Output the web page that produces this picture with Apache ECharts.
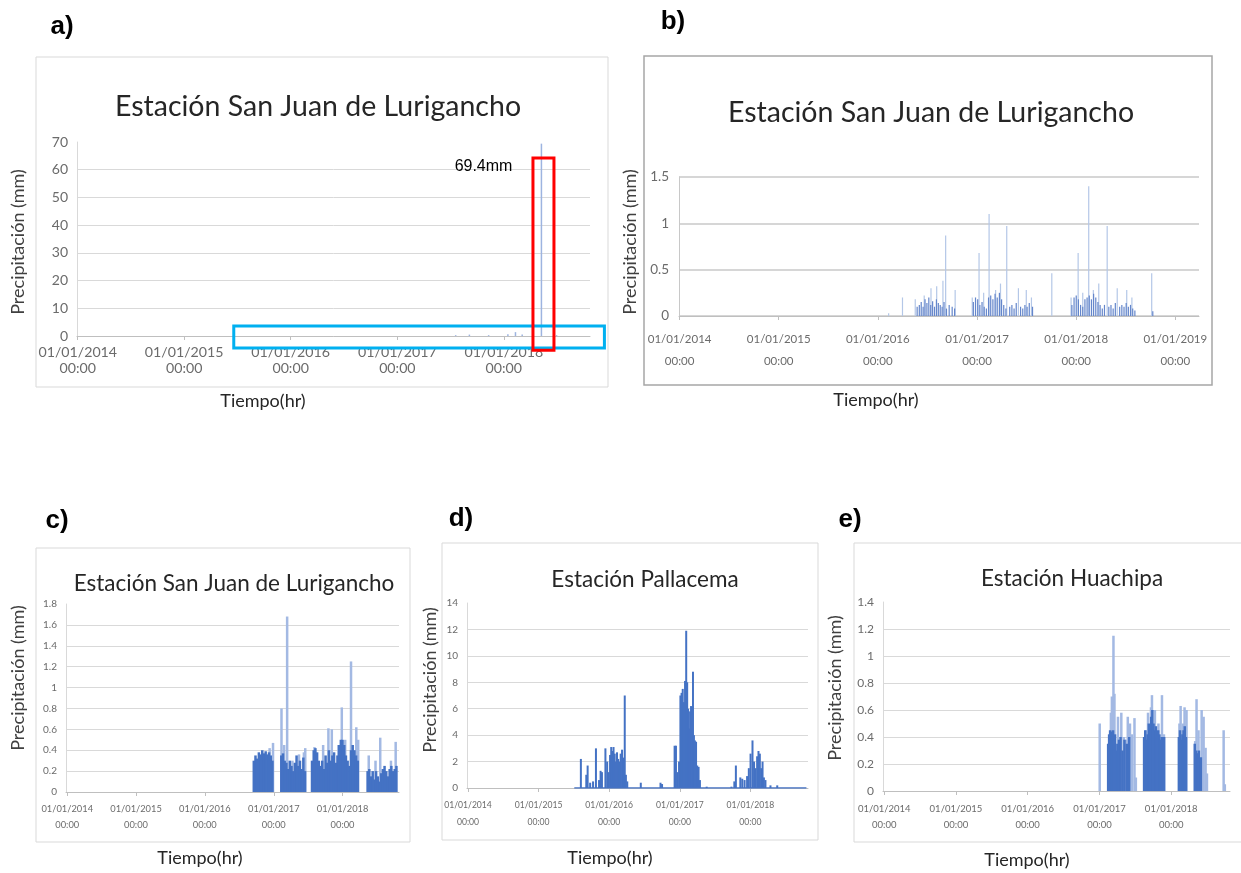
<!DOCTYPE html>
<html>
<head>
<meta charset="utf-8">
<script src="https://cdn.jsdelivr.net/npm/echarts@6/dist/echarts.min.js"></script>
<style>html,body{margin:0;padding:0;background:#fff;}</style>
</head>
<body>
<div id="main" style="width:1241px;height:873px;"></div>
<script>
// ---- data ----
var stationTitles = ['Estación San Juan de Lurigancho', 'Estación San Juan de Lurigancho',
    'Estación San Juan de Lurigancho', 'Estación Pallacema', 'Estación Huachipa'];
var panelLetters = ['a)', 'b)', 'c)', 'd)', 'e)'];
var xStart = '2014-01-01';
var xEnds = ['2018-10-21', '2019-03-27', '2018-10-21', '2018-10-21', '2018-10-21'];
var yMax = [70, 1.5, 1.8, 14, 1.4];
var yStep = [10, 0.5, 0.2, 2, 0.2];

// a) whole record, one 69.4 mm outlier
var aRain = [['2017-07-20', 0.3], ['2017-09-05', 0.5], ['2017-11-10', 0.3], ['2018-01-15', 0.6],
    ['2018-02-10', 1.4], ['2018-03-05', 0.5], ['2018-05-10', 69.4], ['2018-07-01', 0.3]];
var aPeakLabel = '69.4mm';
var aRedBox = ['2018-04-11', '2018-06-22', 64.2, -5.1];
var aBlueBox = ['2015-06-20', '2018-12-12', 3.6, -4.3];

// b) same station, outlier removed
var bBase = [['2016-05-25', 0.1], ['2016-06-02', 0.12], ['2016-06-09', 0.15], ['2016-06-16', 0.1], ['2016-06-23', 0.18],
    ['2016-06-30', 0.14], ['2016-07-07', 0.2], ['2016-07-14', 0.12], ['2016-07-21', 0.16], ['2016-07-28', 0.1],
    ['2016-08-04', 0.18], ['2016-08-11', 0.14], ['2016-08-18', 0.12], ['2016-08-25', 0.1], ['2016-09-01', 0.15],
    ['2016-09-10', 0.08], ['2016-09-20', 0.12], ['2016-10-01', 0.1], ['2016-10-10', 0.08],
    ['2016-12-18', 0.15], ['2016-12-26', 0.2], ['2017-01-03', 0.18], ['2017-01-11', 0.12], ['2017-01-19', 0.15],
    ['2017-01-27', 0.1], ['2017-02-04', 0.08], ['2017-02-12', 0.2], ['2017-02-20', 0.22], ['2017-02-28', 0.18],
    ['2017-03-08', 0.24], ['2017-03-16', 0.2], ['2017-03-24', 0.25], ['2017-04-01', 0.18], ['2017-04-09', 0.12],
    ['2017-04-17', 0.08], ['2017-05-01', 0.1], ['2017-05-09', 0.12], ['2017-05-17', 0.08], ['2017-05-25', 0.14],
    ['2017-06-10', 0.1], ['2017-06-18', 0.08], ['2017-06-26', 0.12], ['2017-07-04', 0.1], ['2017-07-12', 0.14],
    ['2017-07-24', 0.1],
    ['2017-12-16', 0.12], ['2017-12-24', 0.2], ['2018-01-01', 0.22], ['2018-01-09', 0.18], ['2018-01-17', 0.12],
    ['2018-01-25', 0.1], ['2018-02-02', 0.18], ['2018-02-10', 0.2], ['2018-02-18', 0.22], ['2018-02-26', 0.18],
    ['2018-03-06', 0.24], ['2018-03-14', 0.2], ['2018-03-22', 0.15], ['2018-03-30', 0.12], ['2018-04-07', 0.08],
    ['2018-04-15', 0.12], ['2018-05-01', 0.1], ['2018-05-09', 0.12], ['2018-05-17', 0.08], ['2018-05-25', 0.14],
    ['2018-06-10', 0.1], ['2018-06-18', 0.12], ['2018-06-26', 0.1], ['2018-07-04', 0.14], ['2018-07-12', 0.1],
    ['2018-07-20', 0.12], ['2018-07-28', 0.08], ['2018-08-05', 0.06], ['2018-10-10', 0.05]];
var bPeaks = [['2016-02-10', 0.03], ['2016-04-01', 0.2], ['2016-05-18', 0.18], ['2016-06-20', 0.22], ['2016-07-15', 0.3],
    ['2016-08-05', 0.32], ['2016-08-28', 0.38], ['2016-09-07', 0.87], ['2016-10-12', 0.28],
    ['2016-12-14', 0.2], ['2017-01-08', 0.68], ['2017-01-25', 0.25], ['2017-02-14', 1.1], ['2017-03-10', 0.28],
    ['2017-03-28', 0.35], ['2017-04-20', 0.97], ['2017-06-02', 0.3], ['2017-07-01', 0.28], ['2017-07-20', 0.2],
    ['2017-10-03', 0.46],
    ['2017-12-13', 0.2], ['2018-01-08', 0.68], ['2018-01-25', 0.25], ['2018-02-16', 1.4], ['2018-03-05', 0.28],
    ['2018-03-25', 0.35], ['2018-04-25', 0.97], ['2018-06-01', 0.3], ['2018-07-06', 0.28], ['2018-07-25', 0.2],
    ['2018-10-06', 0.46]];

// c) San Juan de Lurigancho, second series
var cBase = [['2016-09-17', 0.3], ['2016-09-26', 0.35], ['2016-10-05', 0.32], ['2016-10-14', 0.38], ['2016-10-23', 0.36],
    ['2016-11-01', 0.4], ['2016-11-10', 0.37], ['2016-11-19', 0.39], ['2016-11-28', 0.36], ['2016-12-07', 0.38],
    ['2016-12-16', 0.35], ['2016-12-25', 0.3],
    ['2017-02-10', 0.35], ['2017-02-19', 0.37], ['2017-02-28', 0.3], ['2017-03-09', 0.28], ['2017-03-18', 0.22],
    ['2017-03-27', 0.3], ['2017-04-05', 0.25], ['2017-04-14', 0.2], ['2017-04-23', 0.28], ['2017-05-02', 0.35],
    ['2017-05-11', 0.25], ['2017-05-20', 0.3], ['2017-05-29', 0.22], ['2017-06-07', 0.33], ['2017-06-16', 0.2],
    ['2017-07-23', 0.3], ['2017-08-01', 0.4], ['2017-08-10', 0.42], ['2017-08-19', 0.38], ['2017-08-28', 0.3],
    ['2017-09-06', 0.25], ['2017-09-15', 0.3], ['2017-09-24', 0.22], ['2017-10-03', 0.35], ['2017-10-12', 0.28],
    ['2017-10-21', 0.4], ['2017-10-30', 0.3], ['2017-11-08', 0.35], ['2017-11-17', 0.38], ['2017-11-26', 0.28],
    ['2017-12-05', 0.35], ['2017-12-14', 0.45], ['2017-12-23', 0.5], ['2018-01-01', 0.5], ['2018-01-10', 0.45],
    ['2018-01-19', 0.35], ['2018-01-28', 0.3], ['2018-02-06', 0.25], ['2018-02-15', 0.4], ['2018-02-24', 0.45],
    ['2018-03-05', 0.4], ['2018-03-14', 0.35], ['2018-03-23', 0.3],
    ['2018-05-14', 0.2], ['2018-05-23', 0.22], ['2018-06-01', 0.15], ['2018-06-10', 0.2], ['2018-06-19', 0.12],
    ['2018-06-28', 0.2], ['2018-07-07', 0.15], ['2018-07-16', 0.1], ['2018-07-25', 0.18], ['2018-08-03', 0.22],
    ['2018-08-12', 0.25], ['2018-08-21', 0.2], ['2018-08-30', 0.15], ['2018-09-08', 0.22], ['2018-09-17', 0.25],
    ['2018-09-26', 0.2], ['2018-10-05', 0.22], ['2018-10-14', 0.25]];
var cPeaks = [['2016-12-10', 0.42], ['2016-12-28', 0.47], ['2017-02-11', 0.8], ['2017-02-25', 0.45], ['2017-03-13', 1.68],
    ['2017-04-10', 0.3], ['2017-05-15', 0.36], ['2017-06-10', 0.38], ['2017-06-17', 0.42], ['2017-08-05', 0.43],
    ['2017-09-20', 0.45], ['2017-10-18', 0.61], ['2017-11-05', 0.6], ['2017-12-10', 0.45], ['2017-12-28', 0.81],
    ['2018-01-15', 0.5], ['2018-02-15', 1.25], ['2018-03-15', 0.62], ['2018-03-25', 0.5], ['2018-05-20', 0.35],
    ['2018-06-25', 0.3], ['2018-07-20', 0.52], ['2018-09-15', 0.3], ['2018-10-10', 0.48]];

// d) Pallacema
var dRecord = [['2015-07-05', 0], ['2018-10-18', 0]];
var dRain = [['2015-08-08', 2.2], ['2015-09-05', 1.0], ['2015-09-12', 1.7], ['2015-09-25', 0.4], ['2015-10-10', 0.5],
    ['2015-10-25', 3.0], ['2015-11-10', 0.6], ['2015-11-18', 1.3], ['2015-11-25', 1.2], ['2015-12-13', 3.0],
    ['2015-12-22', 2.0], ['2015-12-30', 1.2],
    ['2016-01-06', 2.5], ['2016-01-12', 3.1], ['2016-01-18', 2.8], ['2016-01-24', 3.1], ['2016-01-30', 2.6],
    ['2016-02-05', 2.0], ['2016-02-11', 2.7], ['2016-02-17', 2.2], ['2016-02-23', 2.0], ['2016-03-01', 2.6],
    ['2016-03-08', 2.9], ['2016-03-15', 2.3], ['2016-03-22', 7.0], ['2016-03-28', 1.0], ['2016-04-04', 0.5],
    ['2016-06-13', 0.4], ['2016-09-23', 0.4], ['2016-10-01', 0.3],
    ['2016-12-05', 3.2], ['2016-12-12', 3.2], ['2016-12-20', 1.2], ['2016-12-28', 2.0], ['2017-01-04', 7.0],
    ['2017-01-10', 7.2], ['2017-01-16', 7.5], ['2017-01-22', 6.5], ['2017-01-28', 8.1], ['2017-02-03', 11.9],
    ['2017-02-08', 8.0], ['2017-02-13', 6.0], ['2017-02-18', 4.5], ['2017-02-23', 5.8], ['2017-02-28', 6.2],
    ['2017-03-05', 5.0], ['2017-03-10', 8.8], ['2017-03-15', 4.0], ['2017-03-20', 3.6], ['2017-03-26', 3.5],
    ['2017-04-01', 1.7], ['2017-04-08', 1.6], ['2017-04-15', 0.6],
    ['2017-05-20', 0.1], ['2017-09-25', 0.1], ['2017-10-10', 0.5], ['2017-10-18', 1.7], ['2017-11-10', 0.8],
    ['2017-11-20', 0.7], ['2017-12-02', 0.6], ['2017-12-15', 0.9], ['2017-12-24', 1.5], ['2018-01-02', 2.6],
    ['2018-01-12', 3.6], ['2018-01-20', 2.0], ['2018-01-28', 1.5], ['2018-02-05', 2.4], ['2018-02-12', 2.8],
    ['2018-02-19', 2.6], ['2018-02-26', 1.5], ['2018-03-05', 2.0], ['2018-03-12', 0.8], ['2018-03-20', 0.6],
    ['2018-04-15', 0.2], ['2018-05-20', 0.2]];

// e) Huachipa
var eBase = [['2017-02-14', 0.35], ['2017-02-19', 0.42], ['2017-02-24', 0.45], ['2017-03-01', 0.4], ['2017-03-06', 0.44],
    ['2017-03-11', 0.45], ['2017-03-16', 0.38], ['2017-03-21', 0.42], ['2017-03-26', 0.3], ['2017-04-02', 0.35],
    ['2017-04-10', 0.38], ['2017-04-18', 0.4], ['2017-04-28', 0.3], ['2017-05-08', 0.38], ['2017-05-20', 0.35],
    ['2017-06-01', 0.4],
    ['2017-08-16', 0.4], ['2017-08-22', 0.45], ['2017-08-28', 0.38], ['2017-09-03', 0.42], ['2017-09-09', 0.5],
    ['2017-09-15', 0.45], ['2017-09-21', 0.55], ['2017-09-27', 0.6], ['2017-10-03', 0.5], ['2017-10-09', 0.45],
    ['2017-10-15', 0.48], ['2017-10-21', 0.4], ['2017-10-27', 0.45], ['2017-11-02', 0.42], ['2017-11-08', 0.38],
    ['2017-11-14', 0.4], ['2017-11-20', 0.35], ['2017-11-26', 0.4],
    ['2018-02-09', 0.4], ['2018-02-15', 0.45], ['2018-02-21', 0.38], ['2018-02-27', 0.42], ['2018-03-05', 0.45],
    ['2018-03-11', 0.48], ['2018-03-17', 0.4],
    ['2018-05-01', 0.35], ['2018-05-08', 0.3], ['2018-05-15', 0.28], ['2018-05-22', 0.3], ['2018-06-01', 0.25]];
var ePeaks = [['2017-01-02', 0.5], ['2017-02-28', 0.58], ['2017-03-05', 0.7], ['2017-03-13', 1.15], ['2017-03-18', 0.72],
    ['2017-04-05', 0.55], ['2017-04-22', 0.58], ['2017-05-05', 0.4], ['2017-05-15', 0.38], ['2017-05-25', 0.55],
    ['2017-06-05', 0.5], ['2017-06-15', 0.42], ['2017-06-28', 0.54], ['2017-07-05', 0.1],
    ['2017-08-25', 0.45], ['2017-09-05', 0.58], ['2017-09-20', 0.62], ['2017-09-25', 0.71], ['2017-10-10', 0.6],
    ['2017-10-28', 0.5], ['2017-11-15', 0.71], ['2017-11-25', 0.42],
    ['2018-02-12', 0.5], ['2018-02-18', 0.63], ['2018-02-25', 0.4], ['2018-03-02', 0.5], ['2018-03-10', 0.62],
    ['2018-03-20', 0.6],
    ['2018-05-03', 0.37], ['2018-05-10', 0.68], ['2018-05-20', 0.45], ['2018-06-05', 0.6], ['2018-06-15', 0.55],
    ['2018-06-25', 0.32], ['2018-07-02', 0.13], ['2018-09-25', 0.45], ['2018-10-01', 0.05]];

// ---- layout ----
var FONT = 'Lato';
var grids = [
    {left: 77, top: 142, width: 513, height: 194},
    {left: 679, top: 177, width: 520, height: 139},
    {left: 66, top: 604, width: 333, height: 188},
    {left: 467, top: 603, width: 341, height: 185},
    {left: 883, top: 602, width: 347, height: 189}
];
var frames = [[36, 57, 572, 330, '#d9d9d9', 1], [644, 56, 568, 329, '#a6a6a6', 1.5], [36, 548, 374, 294, '#d9d9d9', 1],
    [442, 543, 376, 297, '#d9d9d9', 1], [854, 543, 400, 299, '#d9d9d9', 1]];
var letterPos = [[62, 27], [673, 22], [57, 521], [461, 519], [850, 520]];
var titlePos = [[318, 107, 28.5], [931, 113, 28.5], [234, 584, 22.5], [645, 580, 22.5], [1072, 579, 22.5]];
var yNamePos = [[18, 242], [630, 242], [18, 678], [430, 680], [835, 688]];
var xNamePos = [[263, 401], [876, 400], [200, 858], [610, 858], [1027, 860]];
var xTickFont = [14.2, 11.5, 9.3, 8.6, 9.5];
var yTickFont = [14, 13.5, 10, 10, 12];
var xLabelLH = [16, 22, 16, 17, 16];
var xLabelMargin = [8, 12, 9, 9, 10];

function ts(s) {
    var p = s.split('-');
    return new Date(+p[0], +p[1] - 1, +p[2]).getTime();
}

function yearLabel(v) {
    var d = new Date(v);
    return '01/01/' + d.getFullYear() + '\n00:00';
}

var xAxes = [], yAxes = [];
for (var i = 0; i < 5; i++) {
    xAxes.push({
        type: 'time', gridIndex: i, min: ts(xStart), max: ts(xEnds[i]), splitNumber: 5,
        minInterval: 365 * 864e5,
        axisLine: {lineStyle: {color: '#bfbfbf'}},
        axisTick: {show: true, length: 4, lineStyle: {color: '#bfbfbf'}},
        splitLine: {show: false},
        axisLabel: {formatter: yearLabel, color: '#6b6b6b', fontFamily: FONT, fontSize: xTickFont[i],
            lineHeight: xLabelLH[i], margin: xLabelMargin[i], hideOverlap: false}
    });
    yAxes.push({
        type: 'value', gridIndex: i, min: 0, max: yMax[i], interval: yStep[i],
        axisLine: {show: true, lineStyle: {color: i === 1 ? '#c8c8c8' : '#d9d9d9'}},
        axisTick: {show: false},
        axisLabel: {color: '#6b6b6b', fontFamily: FONT, fontSize: yTickFont[i], margin: i === 1 ? 10 : 9},
        splitLine: {showMaxLine: i === 1, lineStyle: {color: i === 1 ? '#c8c8c8' : '#d9d9d9', width: i === 1 ? 1.5 : 1}}
    });
}

function bars(gi, data, color, w, z) {
    return {type: 'bar', xAxisIndex: gi, yAxisIndex: gi, data: data, barWidth: w, barGap: '-100%',
        itemStyle: {color: color}, z: z, silent: true, animation: false};
}

var series = [
    bars(0, aRain, '#9db4e0', 1.5, 2),
    bars(1, bPeaks, '#b4c7e7', 1.2, 2),
    bars(1, bBase, '#6486cb', 1.2, 3),
    bars(2, cPeaks, '#a3b9e3', 2.5, 2),
    bars(2, cBase, '#4472c4', 2.5, 3),
    bars(3, dRain, '#4472c4', 2, 3),
    {type: 'line', xAxisIndex: 3, yAxisIndex: 3, data: dRecord, showSymbol: false, silent: true,
        lineStyle: {color: '#4472c4', width: 1.5}, z: 3, animation: false},
    bars(4, ePeaks, '#a3b9e3', 2.5, 2),
    bars(4, eBase, '#4472c4', 2.5, 3)
];

var graphics = [];
for (var k = 0; k < 5; k++) {
    var f = frames[k];
    graphics.push({type: 'rect', silent: true, z: -1,
        shape: {x: f[0], y: f[1], width: f[2], height: f[3]},
        style: {fill: 'none', stroke: f[4], lineWidth: f[5]}});
    graphics.push({type: 'text', x: letterPos[k][0], y: letterPos[k][1],
        style: {text: panelLetters[k], fill: '#000', font: 'bold 26px "Liberation Sans", Arial',
            textAlign: 'center', textVerticalAlign: 'middle'}});
    graphics.push({type: 'text', x: titlePos[k][0], y: titlePos[k][1],
        style: {text: stationTitles[k], fill: '#262626', font: titlePos[k][2] + 'px ' + FONT,
            textAlign: 'center', textVerticalAlign: 'middle'}});
    graphics.push({type: 'text', x: yNamePos[k][0], y: yNamePos[k][1], rotation: Math.PI / 2,
        style: {text: 'Precipitación (mm)', fill: '#404040', font: '18px ' + FONT,
            textAlign: 'center', textVerticalAlign: 'middle'}});
    graphics.push({type: 'text', x: xNamePos[k][0], y: xNamePos[k][1],
        style: {text: 'Tiempo(hr)', fill: '#262626', font: '18px ' + FONT,
            textAlign: 'center', textVerticalAlign: 'middle'}});
}

var myChart = echarts.init(document.getElementById('main'));
var option = {
    backgroundColor: '#fff',
    animation: false,
    grid: grids.map(function (g) { return Object.assign({containLabel: false, outerBoundsMode: 'none'}, g); }),
    xAxis: xAxes,
    yAxis: yAxes,
    series: series,
    graphic: graphics
};
myChart.setOption(option);

// annotation boxes of panel a, placed through the axes of grid 0
function boxFromData(b) {
    var p1 = myChart.convertToPixel({gridIndex: 0}, [ts(b[0]), b[2]]);
    var p2 = myChart.convertToPixel({gridIndex: 0}, [ts(b[1]), b[3]]);
    return {x: p1[0], y: p1[1], width: p2[0] - p1[0], height: p2[1] - p1[1]};
}
var peak = aRain[6];
var pk = myChart.convertToPixel({gridIndex: 0}, [ts(peak[0]), 61]);
graphics.push({type: 'rect', silent: true, z: 10, shape: boxFromData(aBlueBox),
    style: {fill: 'none', stroke: '#00b0f0', lineWidth: 3}});
graphics.push({type: 'rect', silent: true, z: 11, shape: boxFromData(aRedBox),
    style: {fill: 'none', stroke: '#ff0000', lineWidth: 3}});
graphics.push({type: 'text', x: pk[0] - 29, y: pk[1], z: 11,
    style: {text: aPeakLabel, fill: '#000', font: '16px "Liberation Sans", Arial',
        textAlign: 'right', textVerticalAlign: 'middle'}});
myChart.setOption({graphic: graphics});
</script>
</body>
</html>
